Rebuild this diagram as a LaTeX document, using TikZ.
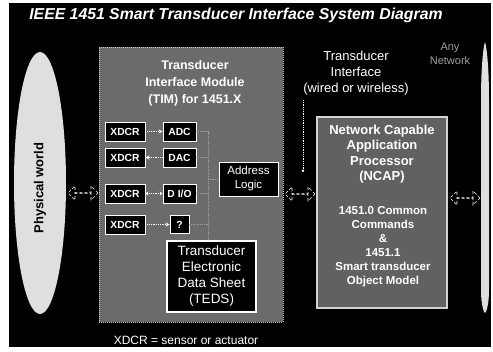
\documentclass[tikz,border=0pt]{standalone}
\usepackage{fontspec}
\setmainfont{Liberation Sans}
\usetikzlibrary{shapes.arrows,shapes.geometric,arrows.meta}
\begin{document}
\begin{tikzpicture}[x=1pt,y=-1pt,
  smallbox/.style={draw=white,line width=0.9pt,fill=black,text=white,
    font=\bfseries\fontsize{10.3}{12}\selectfont,minimum height=19pt,inner sep=0pt},
  bigbox/.style={draw=white,fill=black,text=white,align=center,inner sep=0pt},
  link/.style={draw=white,densely dotted,line width=0.8pt},
  tip/.style={-{Stealth[length=4pt,width=4pt]}},
  busline/.style={draw=gray!75,densely dotted,line width=0.8pt},
  darrow/.style={double arrow,draw=white,densely dashed,line width=0.6pt,fill=black,
    minimum height=30pt,minimum width=14pt,double arrow head extend=4.5pt,inner sep=0pt},
  lbl/.style={text=white,align=center,inner sep=0pt}]
\useasboundingbox (0,0) rectangle (493,351);
\fill[white] (0,0) rectangle (493,351);
\fill[black] (9,3) rectangle (491,347);

% title
\node[lbl,font=\bfseries\itshape\fontsize{15.8}{18}\selectfont] (title) at (236,15)
  {IEEE 1451 Smart Transducer Interface System Diagram};

% physical world
\node[ellipse,fill=gray!25,minimum width=52pt,minimum height=262pt,inner sep=0pt] (phys) at (40,183) {};
\node[rotate=90,font=\bfseries\fontsize{13}{15}\selectfont,text=black] (physlbl) at (40,188) {Physical world};

% TIM
\node[draw=gray!45,densely dotted,line width=1pt,fill=black!58,minimum width=184pt,minimum height=275pt,inner sep=0pt] (tim) at (191,184.5) {};
\node[lbl,font=\bfseries\fontsize{12.5}{17}\selectfont] (timlbl) at (195,83)
  {Transducer\\Interface Module\\(TIM) for 1451.X};

% converters
\node[smallbox,minimum width=40pt] (x1) at (125,131.5) {XDCR};
\node[smallbox,minimum width=33pt] (adc) at (179.5,131.5) {ADC};
\node[smallbox,minimum width=40pt] (x2) at (125,157.5) {XDCR};
\node[smallbox,minimum width=33pt] (dac) at (179.5,157.5) {DAC};
\node[smallbox,minimum width=40pt] (x3) at (125,193.5) {XDCR};
\node[smallbox,minimum width=33pt] (dio) at (179.5,193.5) {D I/O};
\node[smallbox,minimum width=40pt] (x4) at (125,224.5) {XDCR};
\node[smallbox,minimum width=19pt,minimum height=18pt] (unk) at (179.5,224.5) {?};

\draw[link,tip] (x1) -- (adc);
\draw[link,tip] (dac) -- (x2);
\draw[link,{Stealth[length=3pt,width=4pt]}-{Stealth[length=3pt,width=4pt]}] (x3) -- (dio);
\draw[link,tip] (x4) -- (unk);

% address logic and TEDS
\node[bigbox,line width=0.9pt,minimum width=59pt,minimum height=34pt,
  font=\fontsize{11.5}{14}\selectfont] (addr) at (248.5,179) {Address\\Logic};
\node[bigbox,line width=2.5pt,minimum width=89pt,minimum height=71pt,
  font=\fontsize{13.5}{16}\selectfont] (teds) at (211.5,276.5) {Transducer\\Electronic\\Data Sheet\\(TEDS)};

% bus
\coordinate (bustop) at (208,131.5);
\draw[busline] (adc.east) -- (bustop) -- (bustop |- teds.north);
\draw[busline] (dac.east) -- (dac.east -| bustop);
\draw[busline] (dio.east) -- (dio.east -| bustop);
\draw[busline] (unk.east) -- (unk.east -| bustop);
\draw[busline] (addr.west -| bustop) -- (addr.west);

% transducer interface label
\node[lbl,font=\fontsize{13}{16}\selectfont] (tilbl) at (356,73)
  {Transducer\\Interface\\(wired or wireless)};
\coordinate (ptop) at (303,100);
\coordinate (pbot) at (303,172);
\draw[link,-{Circle[length=2.5pt]}] (ptop) -- (pbot);

% NCAP
\node[draw=gray!35,line width=2.5pt,fill=black!62,minimum width=130pt,minimum height=191pt,inner sep=0pt] (ncap) at (382,212.5) {};
\node[lbl,font=\bfseries\fontsize{13}{15.5}\selectfont] (ncaplbl) at (382,154)
  {Network Capable\\Application\\Processor\\(NCAP)};
\node[lbl,font=\bfseries\fontsize{11.5}{14}\selectfont] (ncapsub) at (383,247)
  {1451.0 Common\\Commands\\\&\\1451.1\\Smart transducer\\Object Model};

% network bar
\fill[gray!25] (485,42) .. controls (487,48) and (489,70) .. (489,100)
  -- (489,290) .. controls (489,305) and (486,313) .. (485,313)
  .. controls (484,313) and (481,305) .. (481,290)
  -- (481,100) .. controls (481,70) and (483,48) .. (485,42) -- cycle;
\node[lbl,text=gray!75,font=\fontsize{11}{14}\selectfont] (anynet) at (450,54) {Any\\Network};

% interface arrows
\node[darrow] (a1) at (83,193) {};
\node[darrow] (a2) at (300,194) {};
\node[darrow] (a3) at (465,198) {};

% legend
\node[lbl,font=\fontsize{12}{14}\selectfont] (legend) at (186,340) {XDCR = sensor or actuator};
\end{tikzpicture}
\end{document}
